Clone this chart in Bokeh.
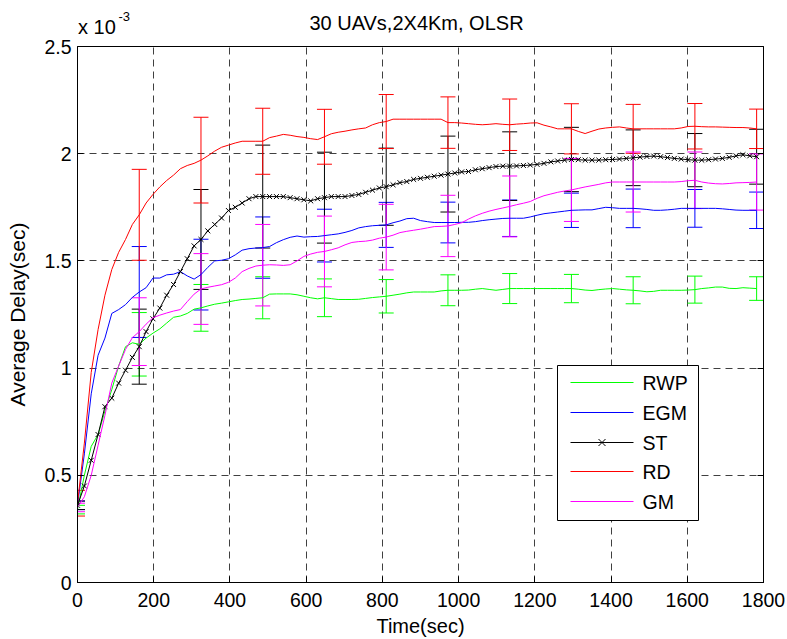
from bokeh.plotting import figure
from bokeh.models import (ColumnDataSource, Whisker, TeeHead, LinearAxis, Label,
                          FixedTicker, Range1d, BoxAnnotation, Arrow)
from bokeh.embed import file_html
from bokeh.resources import INLINE

# ---------------- data (delay in units of 1e-3 s) ----------------
time_s = list(range(0, 1800, 18))          # 100 samples, 18 s apart
err_every = 9                               # error bar every 9th sample

rwp = [0.34, 0.50, 0.635, 0.69, 0.80, 0.90, 1.01, 1.10, 1.118, 1.111,
       1.14, 1.163, 1.183, 1.21, 1.237, 1.243, 1.255, 1.275, 1.281, 1.29,
       1.298, 1.303, 1.309, 1.315, 1.32, 1.322, 1.325, 1.328, 1.345, 1.346,
       1.346, 1.346, 1.342, 1.335, 1.328, 1.323, 1.328, 1.324, 1.320, 1.320,
       1.320, 1.321, 1.325, 1.329, 1.332, 1.335, 1.340, 1.345, 1.351, 1.355,
       1.355, 1.355, 1.355, 1.360, 1.363, 1.363, 1.363, 1.364, 1.368, 1.371,
       1.367, 1.363, 1.367, 1.371, 1.371, 1.371, 1.371, 1.371, 1.371, 1.371,
       1.371, 1.371, 1.371, 1.368, 1.364, 1.362, 1.366, 1.369, 1.371, 1.368,
       1.365, 1.363, 1.360, 1.356, 1.358, 1.363, 1.363, 1.363, 1.363, 1.364,
       1.366, 1.371, 1.374, 1.378, 1.378, 1.372, 1.371, 1.375, 1.373, 1.371]

egm = [0.36, 0.60, 0.88, 1.06, 1.14, 1.255, 1.273, 1.296, 1.33, 1.355,
       1.375, 1.42, 1.42, 1.435, 1.438, 1.45, 1.43, 1.415, 1.436, 1.47,
       1.50, 1.503, 1.51, 1.528, 1.55, 1.557, 1.56, 1.562, 1.567, 1.585,
       1.599, 1.61, 1.616, 1.611, 1.613, 1.614, 1.618, 1.622, 1.626, 1.633,
       1.642, 1.654, 1.66, 1.664, 1.666, 1.668, 1.678, 1.686, 1.697, 1.699,
       1.688, 1.683, 1.679, 1.679, 1.679, 1.679, 1.68, 1.68, 1.683, 1.688,
       1.692, 1.695, 1.698, 1.699, 1.699, 1.699, 1.705, 1.713, 1.72, 1.724,
       1.728, 1.732, 1.736, 1.737, 1.738, 1.738, 1.744, 1.75, 1.748, 1.745,
       1.745, 1.745, 1.743, 1.74, 1.736, 1.736, 1.738, 1.741, 1.745, 1.745,
       1.745, 1.745, 1.745, 1.745, 1.743, 1.74, 1.737, 1.736, 1.736, 1.736]

st = [0.36, 0.45, 0.57, 0.69, 0.82, 0.86, 0.93, 0.99, 1.05, 1.10,
      1.17, 1.23, 1.28, 1.34, 1.39, 1.45, 1.51, 1.57, 1.60, 1.64,
      1.67, 1.70, 1.735, 1.75, 1.77, 1.79, 1.80, 1.80, 1.80, 1.80,
      1.80, 1.795, 1.79, 1.785, 1.78, 1.79, 1.795, 1.80, 1.80, 1.80,
      1.805, 1.81, 1.82, 1.83, 1.84, 1.846, 1.855, 1.865, 1.87, 1.88,
      1.885, 1.89, 1.895, 1.90, 1.905, 1.91, 1.915, 1.917, 1.925, 1.93,
      1.935, 1.94, 1.942, 1.942, 1.943, 1.945, 1.947, 1.95, 1.955, 1.962,
      1.966, 1.97, 1.973, 1.972, 1.97, 1.97, 1.97, 1.972, 1.973, 1.975,
      1.978, 1.981, 1.984, 1.987, 1.989, 1.986, 1.982, 1.978, 1.975, 1.972,
      1.970, 1.970, 1.972, 1.975, 1.978, 1.983, 1.99, 1.995, 1.99, 1.986]

rd = [0.37, 0.65, 0.98, 1.18, 1.34, 1.46, 1.54, 1.60, 1.67, 1.715,
      1.77, 1.81, 1.845, 1.875, 1.90, 1.93, 1.945, 1.955, 1.97, 1.99,
      2.012, 2.03, 2.04, 2.05, 2.058, 2.058, 2.058, 2.058, 2.075, 2.082,
      2.09, 2.086, 2.08, 2.076, 2.07, 2.066, 2.079, 2.093, 2.10, 2.105,
      2.111, 2.116, 2.12, 2.135, 2.145, 2.15, 2.161, 2.161, 2.161, 2.161,
      2.161, 2.161, 2.161, 2.161, 2.145, 2.145, 2.143, 2.14, 2.137, 2.135,
      2.137, 2.14, 2.137, 2.135, 2.138, 2.14, 2.143, 2.144, 2.133, 2.125,
      2.116, 2.116, 2.116, 2.104, 2.094, 2.105, 2.115, 2.12, 2.123, 2.125,
      2.12, 2.116, 2.116, 2.116, 2.116, 2.116, 2.116, 2.116, 2.12, 2.127,
      2.128, 2.126, 2.125, 2.125, 2.124, 2.123, 2.122, 2.122, 2.12, 2.116]

gm = [0.35, 0.40, 0.50, 0.64, 0.78, 0.93, 1.01, 1.087, 1.142, 1.17,
      1.205, 1.235, 1.247, 1.257, 1.266, 1.273, 1.31, 1.345, 1.369, 1.377,
      1.383, 1.389, 1.40, 1.42, 1.45, 1.465, 1.476, 1.48, 1.482, 1.481,
      1.479, 1.482, 1.50, 1.521, 1.532, 1.54, 1.544, 1.552, 1.561, 1.575,
      1.586, 1.59, 1.592, 1.597, 1.606, 1.611, 1.62, 1.632, 1.638, 1.643,
      1.648, 1.654, 1.66, 1.661, 1.663, 1.67, 1.678, 1.695, 1.71, 1.722,
      1.732, 1.74, 1.747, 1.754, 1.762, 1.769, 1.777, 1.792, 1.804, 1.812,
      1.82, 1.826, 1.831, 1.838, 1.845, 1.851, 1.857, 1.864, 1.868, 1.868,
      1.868, 1.868, 1.868, 1.868, 1.868, 1.868, 1.868, 1.868, 1.87, 1.874,
      1.876, 1.868, 1.863, 1.86, 1.859, 1.861, 1.864, 1.865, 1.866, 1.868]

# half-widths of error bars (at samples 0, 9, 18, ..., 99)
rwp_err = [0.02, 0.148, 0.109, 0.098, 0.088, 0.078, 0.072, 0.07, 0.066, 0.063, 0.063, 0.055]
egm_err = [0.02, 0.212, 0.165, 0.143, 0.123, 0.105, 0.095, 0.085, 0.08, 0.09, 0.088, 0.085]
st_err = [0.02, 0.175, 0.233, 0.24, 0.212, 0.18, 0.177, 0.16, 0.15, 0.13, 0.124, 0.128]
rd_err = [0.06, 0.212, 0.2, 0.154, 0.128, 0.126, 0.12, 0.12, 0.117, 0.114, 0.106, 0.092]
gm_err = [0.02, 0.158, 0.165, 0.19, 0.165, 0.153, 0.143, 0.142, 0.147, 0.14, 0.132, 0.131]

series_names = ["RWP", "EGM", "ST", "RD", "GM"]
series_colors = ["#00ff00", "#0000ff", "#000000", "#ff0000", "#ff00ff"]

x_ticks = [0, 200, 400, 600, 800, 1000, 1200, 1400, 1600, 1800]
y_ticks = [0, 0.5, 1, 1.5, 2, 2.5]
y_tick_labels = ["0", "0.5", "1", "1.5", "2", "2.5"]

title_text = "30 UAVs,2X4Km, OLSR"
scale_text = "x 10"
scale_exp = "-3"
x_label = "Time(sec)"
y_label = "Average Delay(sec)"

FONT = "Liberation Sans"
FS = "19.5px"

# ---------------- figure ----------------
p = figure(width=787, height=639, output_backend="svg", toolbar_location=None,
           x_range=Range1d(0, 1800), y_range=Range1d(0, 2.5),
           min_border_left=77, min_border_right=24, min_border_top=46, min_border_bottom=55)
p.background_fill_color = "white"
p.border_fill_color = "white"
p.outline_line_color = "black"
p.outline_line_width = 1

for ax in (p.xaxis[0], p.yaxis[0]):
    ax.axis_line_color = "black"
    ax.major_tick_in = 6
    ax.major_tick_out = 0
    ax.minor_tick_line_color = None
    ax.major_label_text_font = FONT
    ax.major_label_text_font_size = FS
    ax.major_label_text_color = "black"
    ax.axis_label_text_font = FONT
    ax.axis_label_text_font_style = "normal"
    ax.axis_label_text_color = "black"
p.xaxis[0].ticker = FixedTicker(ticks=x_ticks)
p.yaxis[0].ticker = FixedTicker(ticks=y_ticks)
p.yaxis[0].major_label_overrides = {t: l for t, l in zip(y_ticks, y_tick_labels)}
p.xaxis[0].major_label_standoff = 10
p.yaxis[0].major_label_standoff = 6
p.xaxis[0].axis_label = x_label
p.xaxis[0].axis_label_text_font_size = "20px"
p.xaxis[0].axis_label_standoff = 5
p.yaxis[0].axis_label = y_label
p.yaxis[0].axis_label_text_font_size = "21px"
p.yaxis[0].axis_label_standoff = 12

right_ax = LinearAxis(ticker=FixedTicker(ticks=y_ticks), major_tick_in=6, major_tick_out=0,
                      minor_tick_line_color=None, major_label_text_font_size="0px",
                      major_label_text_color=None, major_label_standoff=0,
                      axis_line_color="black")
p.add_layout(right_ax, "right")

for g in (p.xgrid[0], p.ygrid[0]):
    g.grid_line_color = "black"
    g.grid_line_alpha = 0.75
    g.grid_line_dash = "7 5"
    g.grid_line_width = 1
p.xgrid[0].ticker = FixedTicker(ticks=x_ticks)
p.ygrid[0].ticker = FixedTicker(ticks=y_ticks)

all_values = [rwp, egm, st, rd, gm]
all_errs = [rwp_err, egm_err, st_err, rd_err, gm_err]
for name, color, vals, errs in zip(series_names, series_colors, all_values, all_errs):
    src = ColumnDataSource(dict(t=time_s, v=vals))
    p.line("t", "v", source=src, line_color=color, line_width=1)
    if name == "ST":
        p.scatter("t", "v", source=src, marker="x", size=7,
                  line_color=color, line_width=1)
    et = time_s[::err_every]
    ev = vals[::err_every]
    esrc = ColumnDataSource(dict(t=et,
                                 lo=[v - e for v, e in zip(ev, errs)],
                                 hi=[v + e for v, e in zip(ev, errs)]))
    w = Whisker(base="t", lower="lo", upper="hi", source=esrc,
                line_color=color, line_width=1,
                upper_head=TeeHead(size=15, line_color=color, line_width=1),
                lower_head=TeeHead(size=15, line_color=color, line_width=1))
    p.add_layout(w)

# ---------------- legend (screen units, measured from the frame's lower-left) ----------------
LEG_L, LEG_R, LEG_B, LEG_T = 480, 621, 62, 217
ROW_Y = [200, 170, 140, 111, 81]
LINE_X0, LINE_X1, TEXT_X = 493, 556, 565
p.add_layout(BoxAnnotation(left=LEG_L, right=LEG_R, bottom=LEG_B, top=LEG_T,
                           left_units="screen", right_units="screen",
                           bottom_units="screen", top_units="screen",
                           fill_color="white", fill_alpha=1,
                           line_color="black", line_width=1, line_alpha=1))
for name, color, ry in zip(series_names, series_colors, ROW_Y):
    p.add_layout(Arrow(x_start=LINE_X0, y_start=ry, x_end=LINE_X1, y_end=ry,
                       start_units="screen", end_units="screen", end=None,
                       line_color=color, line_width=1))
    if name == "ST":
        mx = (LINE_X0 + LINE_X1) / 2
        for d in (1, -1):
            p.add_layout(Arrow(x_start=mx - 3.5, y_start=ry - 3.5 * d,
                               x_end=mx + 3.5, y_end=ry + 3.5 * d,
                               start_units="screen", end_units="screen", end=None,
                               line_color=color, line_width=1))
    p.add_layout(Label(x=TEXT_X, y=ry, x_units="screen", y_units="screen",
                       text=name, text_font=FONT, text_font_size=FS,
                       text_baseline="middle", text_align="left", text_color="black"))

# ---------------- title and axis multiplier, in side panels ----------------
# "above" panels stack outward from the frame: title first, multiplier second
p.add_layout(Label(x=339, y=24, x_units="screen", y_units="screen", text=title_text,
                   text_font=FONT, text_font_size="20px", text_align="center",
                   text_baseline="middle", text_color="black"), "above")
p.add_layout(Label(x=0.5, y=-2, x_units="screen", y_units="screen", text=scale_text,
                   text_font=FONT, text_font_size="20px", text_align="left",
                   text_baseline="middle", text_color="black"), "above")
# the exponent lives in the narrow right panel, placed back over the top-left corner
p.add_layout(Label(x=-645, y=566, x_units="screen", y_units="screen", text=scale_exp,
                   text_font=FONT, text_font_size="13px", text_align="left",
                   text_baseline="middle", text_color="black"), "right")

open("out.html", "w").write(file_html(p, INLINE))
